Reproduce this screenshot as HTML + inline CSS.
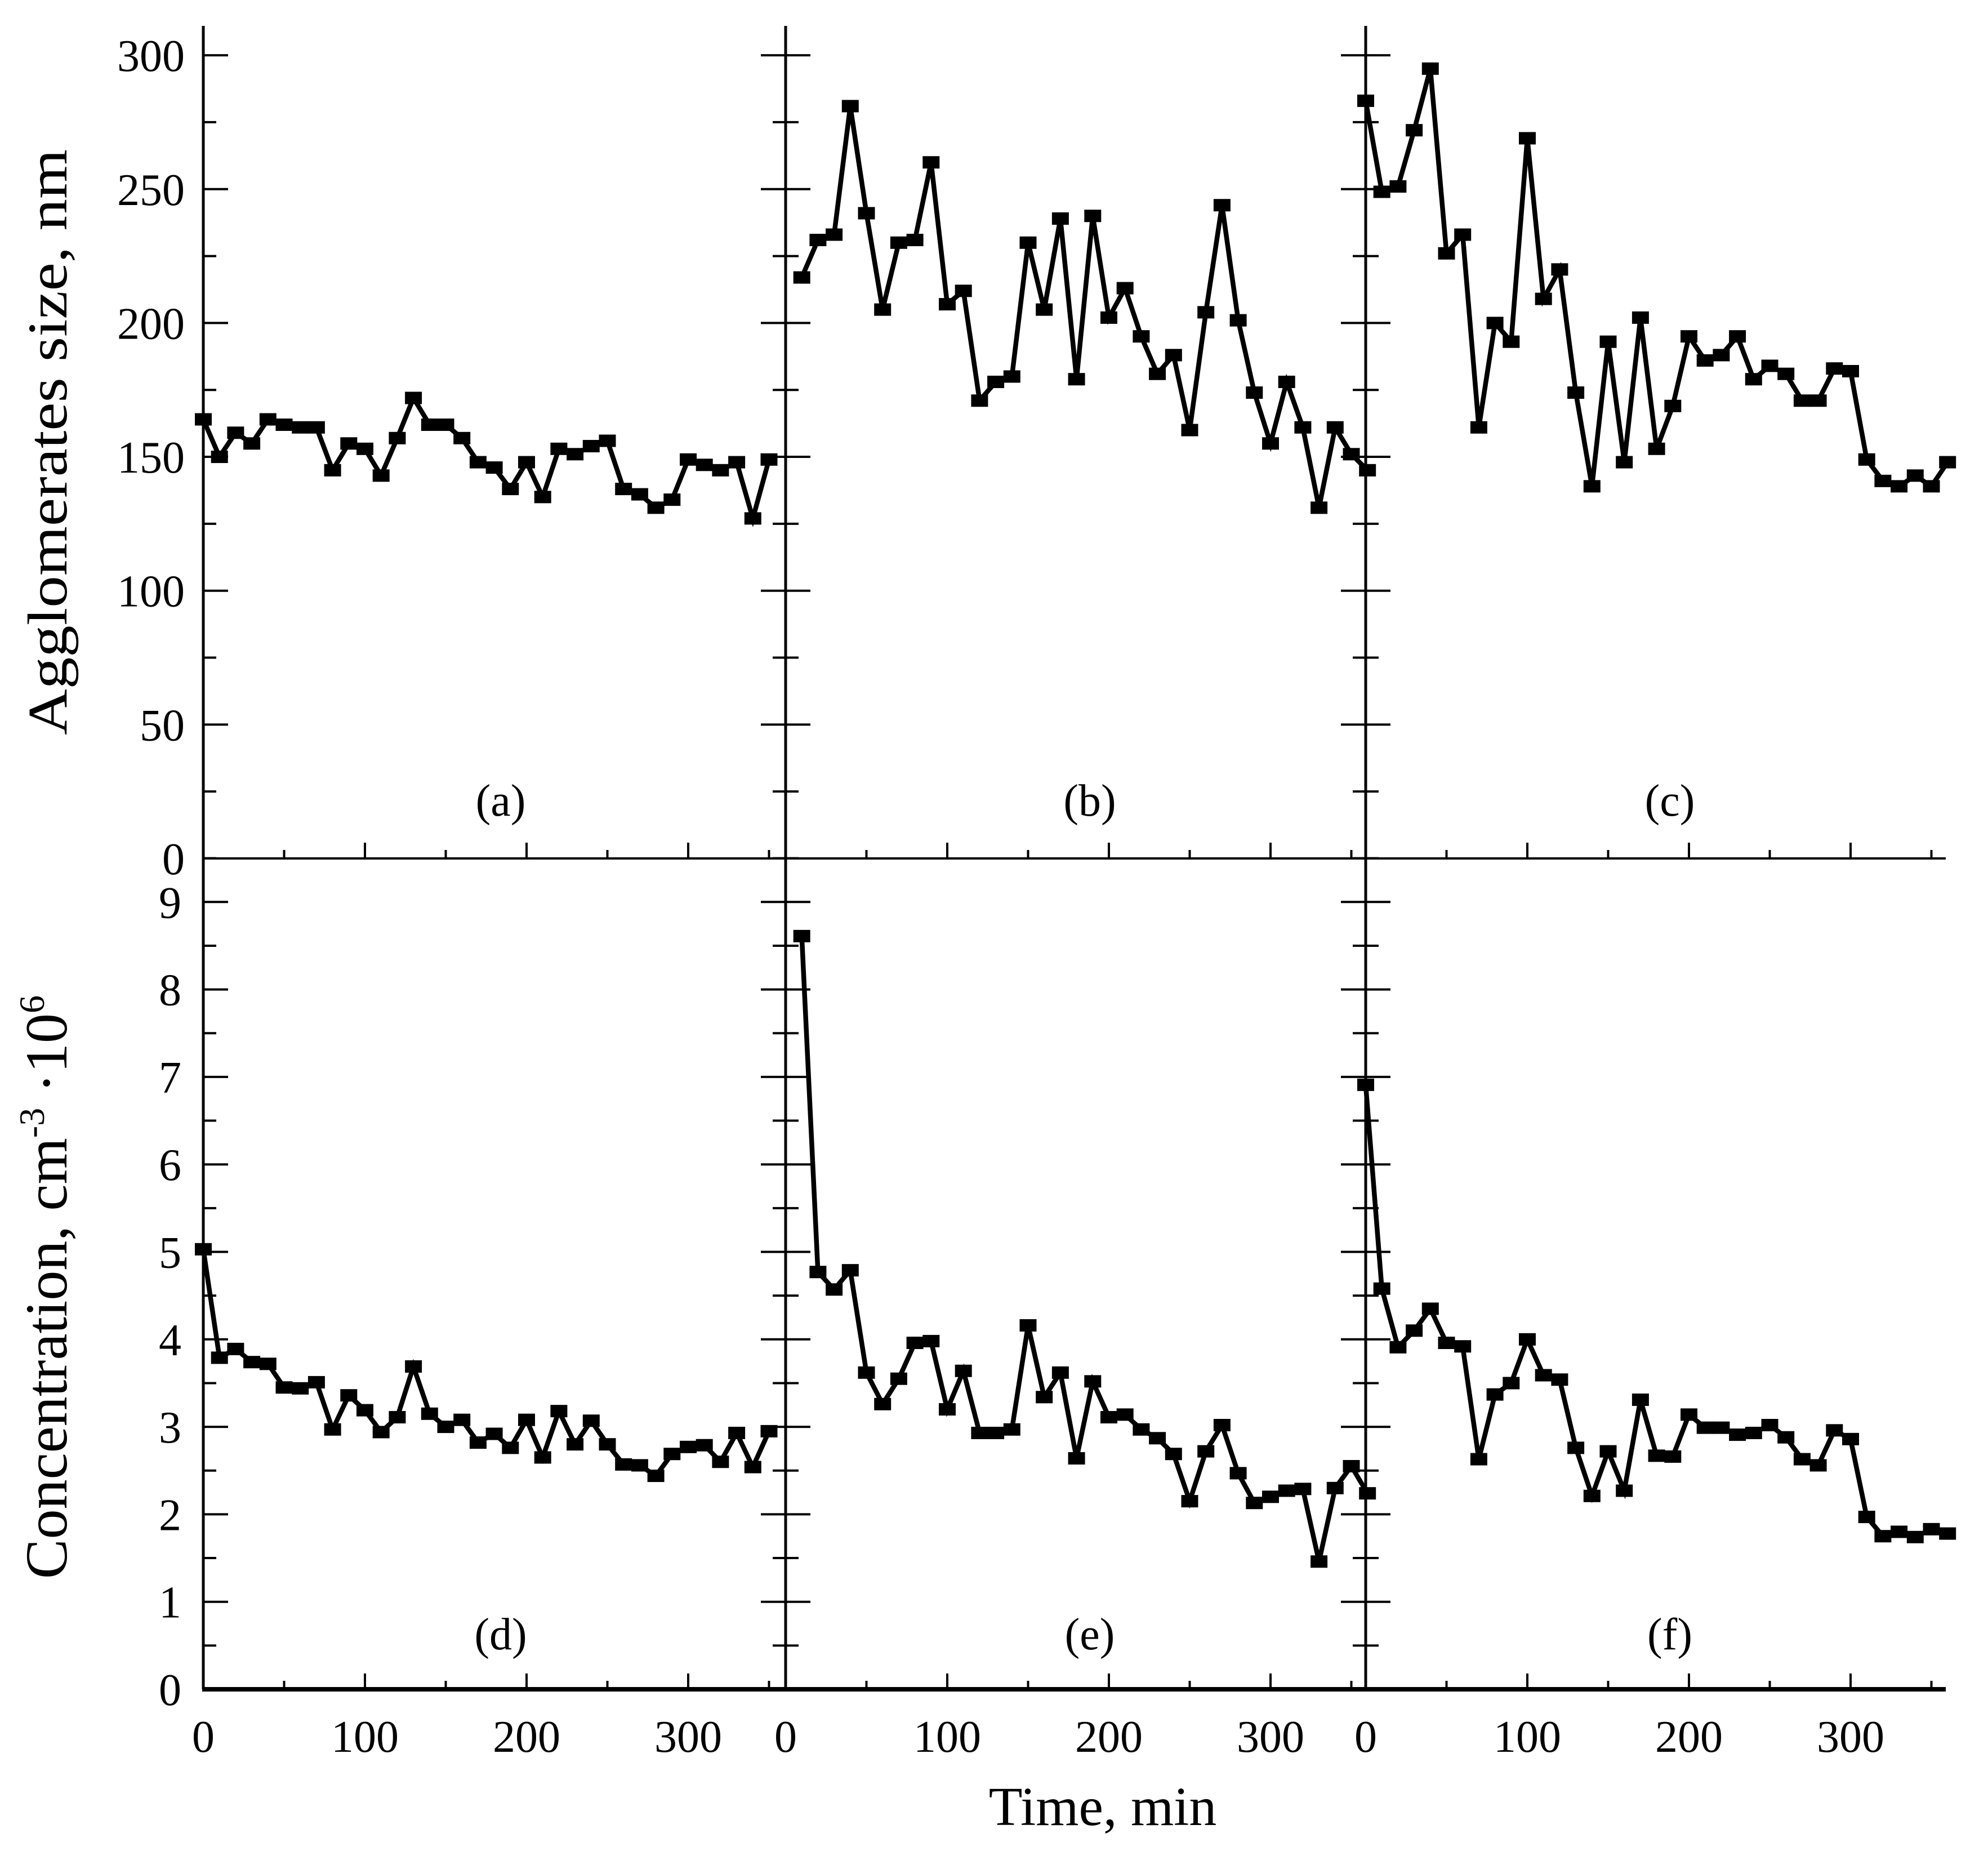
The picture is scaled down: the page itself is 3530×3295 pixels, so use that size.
<!DOCTYPE html>
<html><head><meta charset="utf-8">
<style>
html,body{margin:0;padding:0;background:#fff;}
svg{display:block;}
text{font-family:"Liberation Serif",serif;fill:#000;}
</style></head>
<body>
<svg id="chart" width="3530" height="3295" viewBox="0 0 3530 3295" xmlns="http://www.w3.org/2000/svg">
<text transform="translate(118,785) rotate(-90)" text-anchor="middle" font-size="100" textLength="1040" lengthAdjust="spacingAndGlyphs">Agglomerates size, nm</text>
<text transform="translate(118,2285) rotate(-90)" text-anchor="middle" font-size="106">Concentration, cm<tspan font-size="64" dy="-40">-3</tspan><tspan dy="40"> ·10</tspan><tspan font-size="64" dy="-40">6</tspan></text>
<text x="1958" y="3240" text-anchor="middle" font-size="98">Time, min</text>
</svg>
<script>
// ---- data ----
const tA = [0,10,20,30,40,50,60,70,80,90,100,110,120,130,140,150,160,170,180,190,200,210,220,230,240,250,260,270,280,290,300,310,320,330,340,350];
const sizeA = [164,150,159,155,164,162,161,161,145,155,153,143,157,172,162,162,157,148,146,138,148,135,153,151,154,156,138,136,131,134,149,147,145,148,127,149];
const tB = [10,20,30,40,50,60,70,80,90,100,110,120,130,140,150,160,170,180,190,200,210,220,230,240,250,260,270,280,290,300,310,320,330,340,350,360];
const sizeB = [217,231,233,281,241,205,230,231,260,207,212,171,178,180,230,205,239,179,240,202,213,195,181,188,160,204,244,201,174,155,178,161,131,161,151,145];
const tC = [0,10,20,30,40,50,60,70,80,90,100,110,120,130,140,150,160,170,180,190,200,210,220,230,240,250,260,270,280,290,300,310,320,330,340,350,360];
const sizeC = [283,249,251,272,295,226,233,161,200,193,269,209,220,174,139,193,148,202,153,169,195,186,188,195,179,184,181,171,171,183,182,149,141,139,143,139,148];
const concD = [5.03,3.79,3.89,3.74,3.72,3.45,3.44,3.51,2.97,3.36,3.19,2.94,3.11,3.69,3.15,3.0,3.08,2.82,2.92,2.76,3.08,2.65,3.18,2.8,3.07,2.8,2.57,2.56,2.44,2.69,2.77,2.79,2.6,2.93,2.54,2.95];
const concE = [8.61,4.77,4.57,4.79,3.62,3.26,3.55,3.96,3.98,3.2,3.64,2.93,2.93,2.97,4.16,3.34,3.62,2.64,3.52,3.11,3.14,2.97,2.87,2.69,2.15,2.72,3.02,2.47,2.13,2.2,2.27,2.29,1.46,2.3,2.55,2.24];
const concF = [6.91,4.58,3.91,4.1,4.35,3.96,3.92,2.63,3.37,3.5,4.0,3.59,3.54,2.76,2.21,2.72,2.27,3.31,2.67,2.66,3.14,2.99,2.99,2.91,2.93,3.02,2.88,2.63,2.56,2.96,2.86,1.97,1.75,1.8,1.74,1.83,1.78];
const xTicks = [0,100,200,300];
const sizeTicks = [0,50,100,150,200,250,300];
const concTicks = [0,1,2,3,4,5,6,7,8,9];
const panelLabels = ['(a)','(b)','(c)','(d)','(e)','(f)'];

// ---- layout ----
const NS = 'http://www.w3.org/2000/svg';
const svg = document.getElementById('chart');
const X0 = [361,1395,2425];
const PX_PER_MIN = 2.87;
const RIGHT = 3455;
const TOP = 46, MID = 1524, BOT = 2999;
const sizePx = 4.753, concPx = 155.3;
const xs = (p,t) => X0[p] + t*PX_PER_MIN;
const ySize = v => MID - v*sizePx;
const yConc = v => BOT - v*concPx;

function mk(tag, attrs){const e=document.createElementNS(NS,tag);for(const k in attrs)e.setAttribute(k,attrs[k]);svg.appendChild(e);return e;}
function line(x1,y1,x2,y2,w){return mk('line',{x1:x1,y1:y1,x2:x2,y2:y2,stroke:'#000','stroke-width':w});}

for(let p=0;p<3;p++){
  const v=line(X0[p],TOP,X0[p],BOT,5);
  
  
  const both = p>0;
  for(let val=0; val<=300; val+=25){
    const major = val%50===0;
    const len = major?44:23;
    const y=ySize(val);
    const t=line(both?X0[p]-len:X0[p],y,X0[p]+len,y,4);
    
    
  }
  for(let val=0; val<=9.5; val+=0.5){
    const major = Math.abs(val-Math.round(val))<1e-6;
    const len = major?44:23;
    const y=yConc(val);
    const t=line(both?X0[p]-len:X0[p],y,X0[p]+len,y,4);
    
    
  }
  for(let m=50;m<=350;m+=50){
    const len = m%100===0?28:15;
    const x=xs(p,m);
    const t1=line(x,MID,x,MID-len,4);
    
    
    const t2=line(x,BOT,x,BOT-len,4);
    
    
  }
  xTicks.forEach(m=>{
    const tx=mk('text',{x:xs(p,m),y:3110,'text-anchor':'middle','font-size':80});
    tx.textContent=m;
    
    
  });
}
const hm=line(X0[0],MID,RIGHT,MID,4);


const hb=line(X0[0]-2,BOT,RIGHT,BOT,8);



sizeTicks.forEach(v=>{
  const t=mk('text',{x:328,y:ySize(v)+28,'text-anchor':'end','font-size':80});
  t.textContent=v;
  
  
});
concTicks.forEach(v=>{
  const t=mk('text',{x:322,y:yConc(v)+28,'text-anchor':'end','font-size':80});
  t.textContent=v;
  
  
});

const labX=[889,1935,2965];
panelLabels.forEach((s,i)=>{
  const t=mk('text',{x:labX[i%3],y:i<3?1448:2928,'text-anchor':'middle','font-size':80});
  t.textContent=s;
  
  
});

function series(p, times, vals, yf, name){
  const pts = times.map((t,i)=>xs(p,t)+','+yf(vals[i])).join(' ');
  const pl=mk('polyline',{points:pts,fill:'none',stroke:'#000','stroke-width':8.5,'stroke-linejoin':'miter'});
  
  
  times.forEach((t,i)=>{
    const r=mk('rect',{x:xs(p,t)-15,y:yf(vals[i])-11,width:30,height:22,fill:'#000'});
    
    
  });
}
series(0,tA,sizeA,ySize,'size-a');
series(1,tB,sizeB,ySize,'size-b');
series(2,tC,sizeC,ySize,'size-c');
series(0,tA,concD,yConc,'conc-d');
series(1,tB,concE,yConc,'conc-e');
series(2,tC,concF,yConc,'conc-f');
</script>
</body></html>
